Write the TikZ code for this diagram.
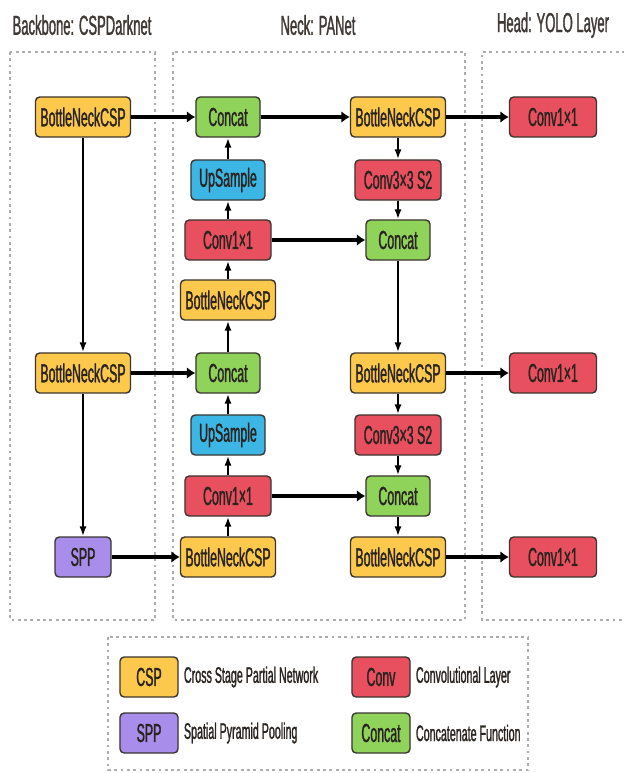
\documentclass[tikz,border=0pt]{standalone}
\usepackage{fontspec}
\setmainfont{Liberation Sans}[FakeStretch=0.475,FakeBold=1.2]
\usetikzlibrary{arrows.meta,positioning}

\definecolor{cspyellow}{HTML}{FDC94C}
\definecolor{convred}{HTML}{E9505F}
\definecolor{upblue}{HTML}{3CB6E4}
\definecolor{catgreen}{HTML}{90D35A}
\definecolor{spppurple}{HTML}{A98DEB}
\definecolor{blockline}{HTML}{3A3530}
\definecolor{textdark}{HTML}{2A2420}

\tikzset{
    block/.style={draw=blockline, line width=1pt, rounded corners=3pt,
        minimum height=1cm, inner sep=0pt, text=textdark,
        font=\fontsize{18.5}{21}\selectfont},
    csp/.style={block, fill=cspyellow, minimum width=2.375cm},
    conv/.style={block, fill=convred, minimum width=2.15cm},
    upsamp/.style={block, fill=upblue, minimum width=1.85cm},
    concat/.style={block, fill=catgreen, minimum width=1.6cm},
    spp/.style={block, fill=spppurple, minimum width=1.4cm},
    keybox/.style={minimum width=1.45cm},
    keytext/.style={anchor=west, inner sep=0pt, text=textdark,
        font=\fontsize{16}{19}\selectfont},
    title/.style={inner sep=0pt, text=textdark!90, font=\fontsize{19.5}{22}\selectfont},
    frame/.style={draw=gray!65, line width=1.2pt, dash pattern=on 2pt off 2.5pt},
    hlink/.style={-{Latex[length=6pt,width=8.5pt]}, line width=2.6pt},
    vlink/.style={-{Latex[length=7pt,width=5pt]}, line width=1.5pt}
}

\begin{document}
\begin{tikzpicture}[x=0.025cm, y=-0.025cm]
    \useasboundingbox (0,0) rectangle (623,773);

    % section titles
    \node[title] (ttlback) at (82,25) {Backbone: CSPDarknet};
    \node[title] (ttlneck) at (318,25) {Neck: PANet};
    \node[title] (ttlhead) at (553,25) {Head: YOLO Layer};

    % dotted frames
    \draw[frame] (10,52) rectangle (155,620);
    \draw[frame] (173,52) rectangle (465,620);
    \draw[frame] (625,52) -- (482,52) -- (482,620) -- (625,620);
    \draw[frame] (108,637) rectangle (528,770);

    % backbone
    \node[csp] (bb1) at (83,117) {BottleNeckCSP};
    \node[csp] (bb2) at (83,373) {BottleNeckCSP};
    \node[spp] (spp) at (83,557) {SPP};

    % neck, bottom-up path
    \node[concat] (ncat1) at (228,117) {Concat};
    \node[upsamp] (nup1) at (228,180) {UpSample};
    \node[conv] (nconv1) at (228,240) {Conv1×1};
    \node[csp] (ncsp1) at (228,300) {BottleNeckCSP};
    \node[concat] (ncat2) at (228,373) {Concat};
    \node[upsamp] (nup2) at (228,435) {UpSample};
    \node[conv] (nconv2) at (228,496) {Conv1×1};
    \node[csp] (ncsp2) at (228,557) {BottleNeckCSP};

    % neck, top-down path
    \node[csp] (pcsp1) at (398,117) {BottleNeckCSP};
    \node[conv] (pdown1) at (398,180) {Conv3×3 S2};
    \node[concat] (pcat1) at (398,240) {Concat};
    \node[csp] (pcsp2) at (398,373) {BottleNeckCSP};
    \node[conv] (pdown2) at (398,435) {Conv3×3 S2};
    \node[concat] (pcat2) at (398,496) {Concat};
    \node[csp] (pcsp3) at (398,557) {BottleNeckCSP};

    % head
    \node[conv, minimum width=2.175cm] (head1) at (553,117) {Conv1×1};
    \node[conv, minimum width=2.175cm] (head2) at (553,373) {Conv1×1};
    \node[conv, minimum width=2.175cm] (head3) at (553,557) {Conv1×1};

    % connectors
    \draw[vlink] (bb1) -- (bb2);
    \draw[vlink] (bb2) -- (spp);
    \draw[hlink] (bb1) -- (ncat1);
    \draw[hlink] (bb2) -- (ncat2);
    \draw[hlink] (spp) -- (ncsp2);

    \draw[vlink] (ncsp2) -- (nconv2);
    \draw[vlink] (nconv2) -- (nup2);
    \draw[vlink] (nup2) -- (ncat2);
    \draw[vlink] (ncat2) -- (ncsp1);
    \draw[vlink] (ncsp1) -- (nconv1);
    \draw[vlink] (nconv1) -- (nup1);
    \draw[vlink] (nup1) -- (ncat1);

    \draw[hlink] (ncat1) -- (pcsp1);
    \draw[hlink] (nconv1) -- (pcat1);
    \draw[hlink] (nconv2) -- (pcat2);

    \draw[vlink] (pcsp1) -- (pdown1);
    \draw[vlink] (pdown1) -- (pcat1);
    \draw[vlink] (pcat1) -- (pcsp2);
    \draw[vlink] (pcsp2) -- (pdown2);
    \draw[vlink] (pdown2) -- (pcat2);
    \draw[vlink] (pcat2) -- (pcsp3);

    \draw[hlink] (pcsp1) -- (head1);
    \draw[hlink] (pcsp2) -- (head2);
    \draw[hlink] (pcsp3) -- (head3);

    % legend
    \node[csp, keybox] (keycsp) at (149,677) {CSP};
    \node[keytext, right=0.125cm of keycsp] (txtcsp) {Cross Stage Partial Network};
    \node[spp, keybox] (keyspp) at (149,733) {SPP};
    \node[keytext, right=0.125cm of keyspp] (txtspp) {Spatial Pyramid Pooling};
    \node[conv, keybox] (keyconv) at (381,677) {Conv};
    \node[keytext, right=0.125cm of keyconv] (txtconv) {Convolutional Layer};
    \node[concat, keybox] (keycat) at (381,733) {Concat};
    \node[keytext, right=0.125cm of keycat] (txtcat) {Concatenate Function};
\end{tikzpicture}
\end{document}
